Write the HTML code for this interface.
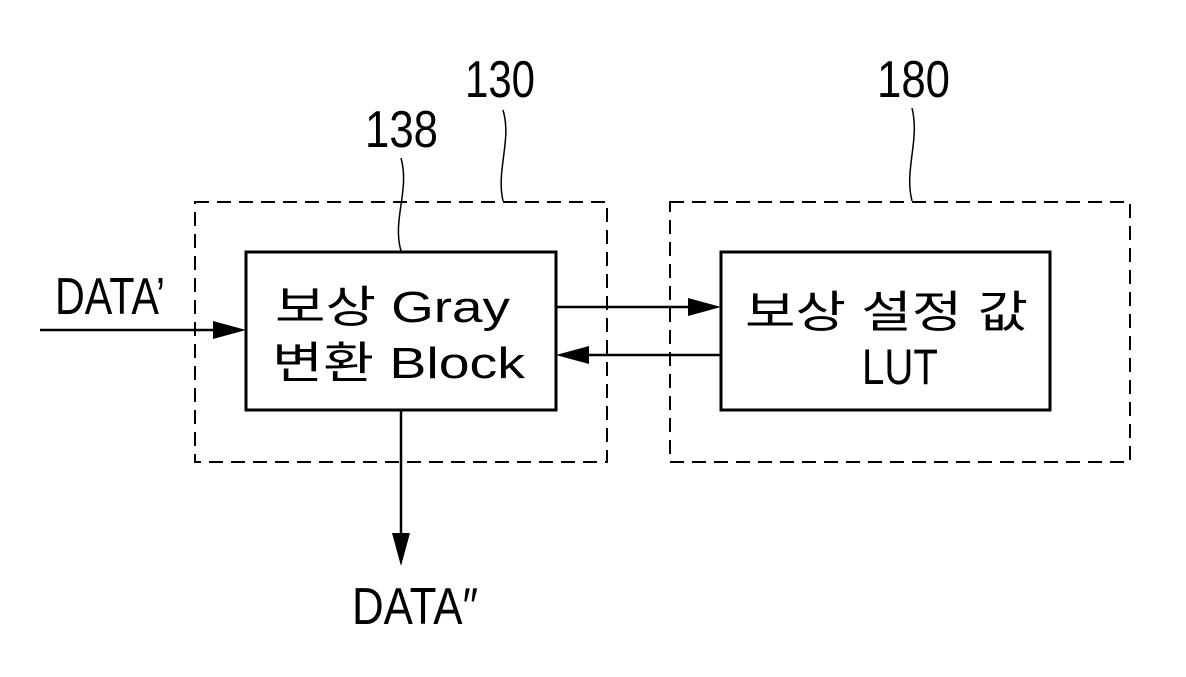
<!DOCTYPE html>
<html><head><style>
html,body{margin:0;padding:0;background:#fff;}
svg{display:block;}
text{font-family:"Liberation Sans","Noto Sans CJK KR",sans-serif;fill:#000;}
</style></head><body>
<svg width="1186" height="677" viewBox="0 0 1186 677" xmlns="http://www.w3.org/2000/svg">
<g fill="none" stroke="#000" stroke-width="2" stroke-dasharray="14,8">
<rect x="195" y="202" width="412" height="260"/>
<rect x="670" y="202" width="460" height="260"/>
</g>
<g fill="none" stroke="#000">
<rect x="246" y="252" width="310" height="158" stroke-width="3"/>
<rect x="721" y="252" width="329" height="158" stroke-width="3"/>
<path d="M503 110 C512 140,496 170,503 201" stroke-width="1.5"/>
<path d="M401 158 C410 190,392 220,401 251" stroke-width="1.5"/>
<path d="M912 108 C920 140,904 170,912 201" stroke-width="1.5"/>
<line x1="40" y1="330" x2="222" y2="330" stroke-width="2.5"/>
<line x1="556" y1="307" x2="697" y2="307" stroke-width="2.5"/>
<line x1="721" y1="355" x2="580" y2="355" stroke-width="2.5"/>
<line x1="401" y1="410" x2="401" y2="540" stroke-width="2.5"/>
</g>
<g fill="#000">
<polygon points="246,330 213,321 213,339"/>
<polygon points="721,307 688,298 688,316"/>
<polygon points="556,355 589,346 589,364"/>
<polygon points="401,566 392,533 410,533"/>
</g>
<g font-size="52">
<text x="465" y="97" textLength="70" lengthAdjust="spacingAndGlyphs">130</text>
<text x="365" y="147" textLength="73" lengthAdjust="spacingAndGlyphs">138</text>
<text x="877" y="97" textLength="73" lengthAdjust="spacingAndGlyphs">180</text>
<text x="55" y="314" textLength="110" lengthAdjust="spacingAndGlyphs">DATA’</text>
<text x="352" y="624" textLength="126" lengthAdjust="spacingAndGlyphs">DATA″</text>
</g>
<g font-size="44">
<text x="275" y="322" textLength="235" lengthAdjust="spacingAndGlyphs">보상 Gray</text>
<text x="272" y="378" textLength="253" lengthAdjust="spacingAndGlyphs">변환 Block</text>
<text x="745" y="327" textLength="283" lengthAdjust="spacingAndGlyphs">보상 설정 값</text>
<text x="862" y="384" textLength="76" lengthAdjust="spacingAndGlyphs" font-size="50">LUT</text>
</g>
</svg>
</body></html>
